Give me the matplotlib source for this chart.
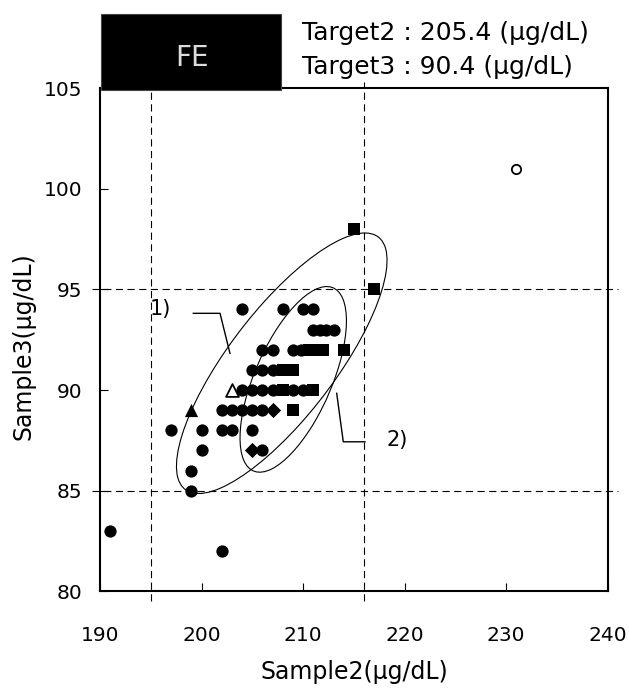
import numpy as np
import matplotlib.pyplot as plt
from matplotlib.patches import Ellipse, Rectangle

plt.rcParams['font.family'] = ['DejaVu Sans']

# laboratory results, grouped by marker type
circle_x = [191, 202, 197, 199, 199, 200, 200, 202, 203, 205, 206,
            204, 208, 210, 211,
            211, 211.7, 212.3, 213,
            206, 207, 209, 209.8,
            205, 206, 207,
            204, 205, 206, 207, 209, 210,
            202, 203, 204, 205, 206]
circle_y = [83, 82, 88, 86, 85, 87, 88, 88, 88, 88, 87,
            94, 94, 94, 94,
            93, 93, 93, 93,
            92, 92, 92, 92,
            91, 91, 91,
            90, 90, 90, 90, 90, 90,
            89, 89, 89, 89, 89]

square_x = [215, 217, 214, 209, 210.6, 211.3, 212, 208, 209, 208, 211]
square_y = [98, 95, 92, 89, 92, 92, 92, 91, 91, 90, 90]

diamond_x = [207, 205]
diamond_y = [89, 87]

triangle_x = [199]
triangle_y = [89]

open_triangle_x = [203]
open_triangle_y = [90]

open_circle_x = [231]
open_circle_y = [101]

# limit lines
x_limits = [195, 216]
y_limits = [85, 95]

# ellipses: center x, center y, half range x, half range y, correlation
ellipse_1 = (207.9, 91.33, 10.37, 6.47, 0.79)
ellipse_2 = (209.03, 90.53, 5.24, 4.61, 0.63)

target_lines = ['Target2 : 205.4 (μg/dL)', 'Target3 : 90.4 (μg/dL)']


def make_ellipse(cx, cy, hx, hy, rho):
    cov = np.array([[hx ** 2, rho * hx * hy], [rho * hx * hy, hy ** 2]])
    vals, vecs = np.linalg.eigh(cov)
    order = vals.argsort()[::-1]
    vals, vecs = vals[order], vecs[:, order]
    angle = np.degrees(np.arctan2(vecs[1, 0], vecs[0, 0]))
    return Ellipse((cx, cy), 2 * np.sqrt(vals[0]), 2 * np.sqrt(vals[1]),
                   angle=angle, fill=False, edgecolor='black', lw=0.8, zorder=2)


fig = plt.figure(figsize=(6.29, 6.89), dpi=100)
ax = fig.add_axes([100 / 629, 1 - 591.4 / 689, 507.7 / 629, 503.4 / 689])

ax.set_xlim(190, 240)
ax.set_ylim(80, 105)
ax.set_xticks(range(190, 241, 10))
ax.set_yticks(range(80, 106, 5))
ax.tick_params(axis='both', direction='in', length=6, width=0.8, labelsize=14.5)
ax.tick_params(axis='x', pad=25)
ax.tick_params(axis='y', pad=13)
for s in ax.spines.values():
    s.set_linewidth(1.5)

# dashed limit lines run a little past the frame
for xv in x_limits:
    ax.plot([xv, xv], [79.5, 105.3], color='black', lw=0.8,
            dashes=(6.5, 4), clip_on=False, zorder=1)
for yv in y_limits:
    ax.plot([189.2, 241.0], [yv, yv], color='black', lw=0.8,
            dashes=(6.5, 4), clip_on=False, zorder=1)

ax.add_patch(make_ellipse(*ellipse_1))
ax.add_patch(make_ellipse(*ellipse_2))

ax.scatter(circle_x, circle_y, s=78, marker='o', color='black', linewidths=0, zorder=3)
ax.scatter(square_x, square_y, s=66, marker='s', color='black', linewidths=0, zorder=3)
ax.scatter(diamond_x, diamond_y, s=60, marker='D', color='black', linewidths=0, zorder=3)
ax.scatter(triangle_x, triangle_y, s=90, marker='^', color='black', linewidths=0, zorder=3)
ax.scatter(open_triangle_x, open_triangle_y, s=85, marker='^', facecolor='white',
           edgecolor='black', linewidths=1.3, zorder=3)
ax.scatter(open_circle_x, open_circle_y, s=45, marker='o', facecolor='white',
           edgecolor='black', linewidths=1.3, zorder=3)

# group labels with leader lines
ax.text(195.9, 94.0, '1)', fontsize=15, ha='center', va='center')
ax.plot([199.19, 201.82, 202.8], [93.81, 93.81, 91.82], color='black', lw=1.0)
ax.text(219.25, 87.52, '2)', fontsize=15, ha='center', va='center')
ax.plot([213.31, 213.96, 216.1], [89.84, 87.43, 87.43], color='black', lw=1.0)

# title block
fig.add_artist(Rectangle((101 / 629, 1 - 90 / 689), 180 / 629, 76 / 689,
                         transform=fig.transFigure, facecolor='black',
                         edgecolor='#444444', lw=0.8, zorder=10))
fig.text(192 / 629, 1 - 58 / 689, 'FE', color='#dddddd', fontsize=20,
         ha='center', va='center', zorder=11)
fig.text(302 / 629, 1 - 33 / 689, target_lines[0], fontsize=18, ha='left', va='center')
fig.text(302 / 629, 1 - 67 / 689, target_lines[1], fontsize=18, ha='left', va='center')

fig.text(354 / 629, 1 - 672 / 689, 'Sample2(μg/dL)', fontsize=17, ha='center', va='center')
fig.text(24 / 629, 1 - 346 / 689, 'Sample3(μg/dL)', fontsize=17, ha='center', va='center',
         rotation=90)

fig.savefig('out.png', dpi=100)
